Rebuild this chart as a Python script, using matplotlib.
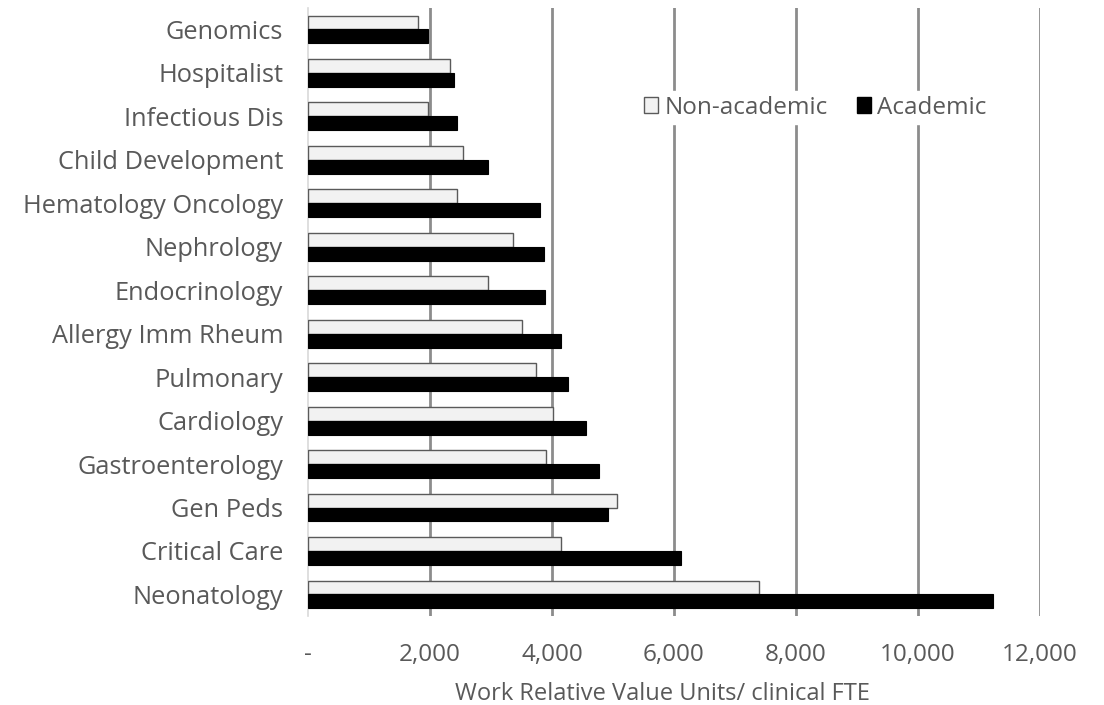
import matplotlib
matplotlib.use("Agg")
import matplotlib.pyplot as plt
from matplotlib.patches import Patch
from matplotlib.ticker import FixedLocator, FixedFormatter

plt.rcParams['font.family'] = ['Open Sans', 'DejaVu Sans']

specialties = ["Genomics", "Hospitalist", "Infectious Dis", "Child Development",
               "Hematology Oncology", "Nephrology", "Endocrinology",
               "Allergy Imm Rheum", "Pulmonary", "Cardiology",
               "Gastroenterology", "Gen Peds", "Critical Care", "Neonatology"]
non_academic = [1800, 2330, 1970, 2540, 2440, 3360, 2950, 3500, 3740, 4020,
                3900, 5060, 4150, 7390]
academic = [1970, 2390, 2440, 2950, 3810, 3870, 3890, 4150, 4270, 4560,
            4770, 4910, 6120, 11230]
tick_values = [0, 2000, 4000, 6000, 8000, 10000, 12000]
tick_labels = ["-", "2,000", "4,000", "6,000", "8,000", "10,000", "12,000"]

text_color = "#595959"

fig = plt.figure(figsize=(11.04, 7.05), dpi=100)
ax = fig.add_axes([0.279, 0.126, 0.663, 0.863])

ypos = list(range(len(specialties)))
h = 0.32
ax.barh([y - h / 2 for y in ypos], non_academic, height=h,
        color="#f2f2f2", edgecolor="#5a5a5a", linewidth=1.0, zorder=3)
ax.barh([y + h / 2 for y in ypos], academic, height=h,
        color="black", edgecolor="black", linewidth=0.8, zorder=3)

ax.set_xlim(0, 12000)
ax.set_ylim(len(specialties) - 0.5, -0.5)
ax.set_yticks(ypos)
ax.set_yticklabels(specialties, fontsize=18.3, color=text_color)

ax.xaxis.set_major_locator(FixedLocator(tick_values))
ax.xaxis.set_major_formatter(FixedFormatter(tick_labels))
ax.tick_params(axis='x', labelsize=17.5, labelcolor=text_color, length=0, pad=19)
ax.tick_params(axis='y', length=0, pad=18)

for v in tick_values[1:]:
    ax.axvline(v, color="#8c8c8c", linewidth=2.0, zorder=1)

for side in ["top", "right", "bottom"]:
    ax.spines[side].set_visible(False)
ax.spines["left"].set_color("#d9d9d9")
ax.spines["left"].set_linewidth(1.2)

ax.set_xlabel("Work Relative Value Units/ clinical FTE", fontsize=17,
              color=text_color)
ax.xaxis.set_label_coords(0.484, -0.108)

handles = [Patch(facecolor="#f2f2f2", edgecolor="#5a5a5a", label="Non-academic"),
           Patch(facecolor="black", edgecolor="black", label="Academic")]
leg = ax.legend(handles=handles, ncol=2, loc="center",
                bbox_to_anchor=(0.693, 0.836), frameon=True, framealpha=1,
                edgecolor="white", fontsize=17.5, handlelength=0.6,
                handleheight=0.6, handletextpad=0.25, columnspacing=1.2,
                borderpad=0.2, labelcolor=text_color)
leg.set_zorder(5)

fig.savefig("out.png", dpi=100)
